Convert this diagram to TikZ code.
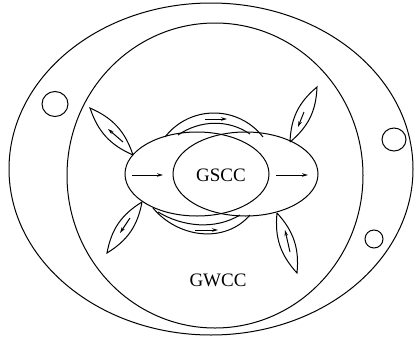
\documentclass[tikz,border=0pt]{standalone}
\usepackage{fontspec}
\setmainfont{Liberation Serif}
\usetikzlibrary{arrows.meta,shapes.geometric}

\begin{document}
\begin{tikzpicture}[x=1pt,y=-1pt,line width=1pt,>={Stealth[length=6pt,width=3.5pt]},
  blob/.style={draw,ellipse,inner sep=0pt,outer sep=0pt},
  leaf/.style={draw},
  lbl/.style={font=\fontsize{19}{20}\selectfont}]
\useasboundingbox (0,0) rectangle (415,338);
% whole graph and giant weak component
\node[blob,minimum width=404pt,minimum height=332pt] (world) at (211,169) {};
\node[blob,minimum width=296pt,minimum height=305pt] (gwcc) at (215,175.5) {};
\node[lbl] (gwcclbl) at (218,280) {GWCC};
% small disconnected components
\node[blob,minimum width=26pt,minimum height=25pt] (dcA) at (55,104) {};
\node[blob,minimum width=24pt,minimum height=23pt] (dcB) at (394,139.5) {};
\node[blob,minimum size=18pt] (dcC) at (374,239) {};
% in and out sets
\node[blob,minimum width=144pt,minimum height=84pt] (inset) at (197,174) {};
\node[blob,minimum width=145pt,minimum height=84pt] (outset) at (245.5,174) {};
\node[lbl] (gscc) at (221,175) {GSCC};
\coordinate (inA) at (132,175);
\coordinate (inB) at (163,175);
\coordinate (outA) at (276,175);
\coordinate (outB) at (308,175);
\draw[->] (inA) -- (inB);
\draw[->] (outA) -- (outB);
% tubes
\coordinate (tuA) at (165,137);
\coordinate (tuB) at (263,137);
\coordinate (tuC) at (178,135);
\coordinate (tuD) at (250,134);
\draw (tuA) .. controls (190,105) and (238,105) .. (tuB);
\draw (tuC) .. controls (200,120) and (228,119) .. (tuD);
\coordinate (tuE) at (205,119);
\coordinate (tuF) at (227,119);
\draw[->] (tuE) -- (tuF);
\coordinate (tlA) at (153,208);
\coordinate (tlB) at (250,215);
\coordinate (tlC) at (158,212);
\coordinate (tlD) at (240,215);
\draw (tlA) .. controls (178,238) and (225,244) .. (tlB);
\draw (tlC) .. controls (183,227) and (215,230) .. (tlD);
\coordinate (tlE) at (195,230);
\coordinate (tlF) at (218,230);
\draw[->] (tlE) -- (tlF);
% tendrils
\coordinate (ulbase) at (133,155);
\coordinate (ultip) at (90,108);
\draw[leaf] (ulbase) to[bend left=24] (ultip) to[bend left=24] (ulbase);
\coordinate (ulA) at (123,142);
\coordinate (ulB) at (108,129);
\draw[->] (ulA) -- (ulB);
\coordinate (urbase) at (290,142);
\coordinate (urtip) at (317,87);
\draw[leaf] (urbase) to[bend left=24] (urtip) to[bend left=24] (urbase);
\coordinate (urA) at (304,112);
\coordinate (urB) at (298,127);
\draw[->] (urA) -- (urB);
\coordinate (llbase) at (142,202);
\coordinate (lltip) at (107,253);
\draw[leaf] (llbase) to[bend left=24] (lltip) to[bend left=24] (llbase);
\coordinate (llA) at (130,218);
\coordinate (llB) at (120,233);
\draw[->] (llA) -- (llB);
\coordinate (lrbase) at (277,213);
\coordinate (lrtip) at (297,273);
\draw[leaf] (lrbase) to[bend left=24] (lrtip) to[bend left=24] (lrbase);
\coordinate (lrA) at (290,252);
\coordinate (lrB) at (285,230);
\draw[->] (lrA) -- (lrB);
\end{tikzpicture}
\end{document}
